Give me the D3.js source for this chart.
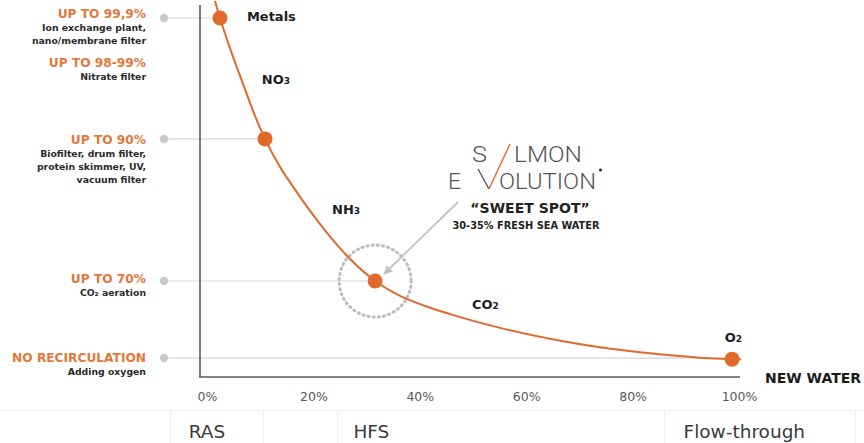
<!DOCTYPE html>
<html>
<head>
<meta charset="utf-8">
<script src="https://cdn.jsdelivr.net/npm/d3@7"></script>
<style>
  html, body { margin: 0; padding: 0; background: #fff; }
  svg { display: block; font-family: "DejaVu Sans", sans-serif; }
</style>
</head>
<body>
<svg id="chart" width="864" height="443"></svg>
<script>
// ---- data ----
const xTickValues = [0, 20, 40, 60, 80, 100];
const xTickLabels = ["0%", "20%", "40%", "60%", "80%", "100%"];

// curve: share of new water (%) vs. recirculation level (schematic units)
const curveX = [1.5, 2.44, 4.32, 6.77, 9.02, 10.9, 13.7, 16.2, 19.4, 22.6, 26.9, 31.6, 36.3, 41.0, 45.7, 55.1, 67.7, 86.5, 98.7, 100.4];
const curveY = [101.1, 96.5, 88.4, 78.8, 70.2, 64.0, 56.5, 51.1, 44.6, 38.7, 31.7, 25.8, 21.8, 19.1, 16.9, 13.2, 9.4, 5.9, 4.8, 4.8];

// marked points on the curve
const pointX = [2.44, 10.9, 31.6, 98.7];
const pointY = [96.5, 64.0, 25.8, 4.8];

// left-hand categories
const levelHeads = ["UP TO 99,9%", "UP TO 98-99%", "UP TO 90%", "UP TO 70%", "NO RECIRCULATION"];
const levelSubs = [
  ["Ion exchange plant,", "nano/membrane filter"],
  ["Nitrate filter"],
  ["Biofilter, drum filter,", "protein skimmer, UV,", "vacuum filter"],
  ["CO\u2082 aeration"],
  ["Adding oxygen"]
];
const levelHeadY = [96.5, 83.3, 62.6, 25.3, 4.0];
const guideLevels = [96.5, 64.0, 25.8, 5.1];
const guideEndX = [2.44, 10.9, 31.6, 100];

// substance labels on the curve
const substanceNames = ["Metals", "NO", "NH", "CO", "O"];
const substanceSubs = ["", "3", "3", "2", "2"];
const substanceX = [7.5, 10.3, 23.5, 49.8, 97.3];
const substanceY = [95.7, 78.8, 43.7, 18.3, 9.4];

// bottom row
const systemNames = ["RAS", "HFS", "Flow-through"];
const systemX = [0, 30.9, 101];

// ---- layout ----
const svg = d3.select("#chart");
const ORANGE = "#E2692C";
const ORANGE_TXT = "#E5773A";
const BOLD = "'DejaVu Sans', sans-serif";
const x = d3.scaleLinear().domain([0, 100]).range([207, 739]);
const y = d3.scaleLinear().domain([0, 100]).range([377, 5]);

// faint table lines at the bottom
const faint = "#f0f0f0";
svg.append("line").attr("x1", 0).attr("x2", 864).attr("y1", 410.5).attr("y2", 410.5)
  .attr("stroke", faint).attr("stroke-width", 1);
[170, 263, 337, 664, 855].forEach(v => {
  svg.append("line").attr("x1", v + 0.5).attr("x2", v + 0.5).attr("y1", 411).attr("y2", 443)
    .attr("stroke", faint).attr("stroke-width", 1);
});

// guide lines
guideLevels.forEach((lv, i) => {
  svg.append("line")
    .attr("x1", 163).attr("x2", x(guideEndX[i]))
    .attr("y1", y(lv)).attr("y2", y(lv))
    .attr("stroke", "#d6d6d6").attr("stroke-width", 1.2);
  svg.append("circle").attr("cx", 164).attr("cy", y(lv)).attr("r", 4.2).attr("fill", "#c9c9c9");
});

// axes (no ticks)
svg.append("line").attr("x1", 200).attr("x2", 200).attr("y1", 5).attr("y2", 377)
  .attr("stroke", "#5a5a5a").attr("stroke-width", 1.6);
svg.append("line").attr("x1", 199).attr("x2", 740).attr("y1", 377).attr("y2", 377)
  .attr("stroke", "#5a5a5a").attr("stroke-width", 1.6);

// x tick labels through an axis
const xAxis = d3.axisBottom(x).tickValues(xTickValues)
  .tickFormat((d, i) => xTickLabels[i]).tickSize(0).tickPadding(0);
const gx = svg.append("g").attr("transform", "translate(0,392)").call(xAxis);
gx.select(".domain").remove();
gx.selectAll("text").attr("font-family", "'DejaVu Sans', sans-serif").attr("font-size", 12.5)
  .attr("fill", "#5a5a5a").attr("dy", "0.71em");

// sweet spot dotted circle
svg.append("circle").attr("cx", x(pointX[2])).attr("cy", y(pointY[2])).attr("r", 36)
  .attr("fill", "none").attr("stroke", "#bdbdbd").attr("stroke-width", 3)
  .attr("stroke-dasharray", "1.2 4").attr("stroke-linecap", "round");

// curve
const line = d3.line().x(d => x(d[0])).y(d => y(d[1])).curve(d3.curveMonotoneX);
svg.append("path").datum(curveX.map((v, i) => [v, curveY[i]]))
  .attr("d", line).attr("fill", "none").attr("stroke", ORANGE).attr("stroke-width", 2);

// arrow
const defs = svg.append("defs");
defs.append("marker").attr("id", "ah").attr("viewBox", "0 0 10 10").attr("refX", 9).attr("refY", 5)
  .attr("markerWidth", 5).attr("markerHeight", 5).attr("orient", "auto")
  .append("path").attr("d", "M0,0 L10,5 L0,10 z").attr("fill", "#c2c2c2");
svg.append("line").attr("x1", 458).attr("y1", 202).attr("x2", 384).attr("y2", 274)
  .attr("stroke", "#c2c2c2").attr("stroke-width", 1.8).attr("marker-end", "url(#ah)");

// points
svg.selectAll("circle.pt").data(pointX).enter().append("circle").attr("class", "pt")
  .attr("cx", d => x(d)).attr("cy", (d, i) => y(pointY[i])).attr("r", 7.5).attr("fill", ORANGE);

// substance labels
substanceNames.forEach((n, i) => {
  const t = svg.append("text").attr("x", x(substanceX[i])).attr("y", y(substanceY[i]))
    .attr("font-family", BOLD).attr("font-weight", 700).attr("font-size", 13)
    .attr("fill", "#1e1e1e");
  t.append("tspan").text(n);
  if (substanceSubs[i]) t.append("tspan").attr("font-size", 9).text(substanceSubs[i]);
});

// left labels
levelHeads.forEach((h, i) => {
  const by = y(levelHeadY[i]);
  svg.append("text").attr("x", 146).attr("y", by).attr("text-anchor", "end")
    .attr("font-family", BOLD).attr("font-weight", 700).attr("font-size", 12.2)
    .attr("fill", ORANGE_TXT).text(h);
  levelSubs[i].forEach((s, j) => {
    svg.append("text").attr("x", 146).attr("y", by + 13 + j * 13).attr("text-anchor", "end")
      .attr("font-family", BOLD).attr("font-weight", 700).attr("font-size", 9.3)
      .attr("fill", "#2a2a2a").text(s);
  });
});

// NEW WATER
svg.append("text").attr("x", 765).attr("y", 383).attr("font-family", BOLD)
  .attr("font-weight", 700).attr("font-size", 14).attr("fill", "#1a1a1a").text("NEW WATER");

// logo
const logoParts = [["S", 472, 162, 15], ["LMON", 514, 162, 68], ["E", 448, 189, 13], ["OLUTION", 499, 189, 97]];
logoParts.forEach(p => {
  svg.append("text").attr("x", p[1]).attr("y", p[2])
    .attr("font-family", "Roboto, sans-serif").attr("font-weight", 300)
    .attr("font-size", 22.5).attr("fill", "#555")
    .attr("textLength", p[3]).attr("lengthAdjust", "spacingAndGlyphs").text(p[0]);
});
svg.append("line").attr("x1", 478).attr("y1", 169).attr("x2", 489).attr("y2", 189)
  .attr("stroke", "#555").attr("stroke-width", 1.4);
svg.append("line").attr("x1", 489).attr("y1", 189).attr("x2", 510).attr("y2", 144)
  .attr("stroke", ORANGE).attr("stroke-width", 1.4);
svg.append("circle").attr("cx", 600.5).attr("cy", 170).attr("r", 1.6).attr("fill", "#333");

// sweet spot text
svg.append("text").attr("x", 530).attr("y", 213).attr("text-anchor", "middle")
  .attr("font-family", BOLD).attr("font-weight", 700).attr("font-size", 14)
  .attr("fill", "#222").text("\u201CSWEET SPOT\u201D");
svg.append("text").attr("x", 526).attr("y", 229).attr("text-anchor", "middle")
  .attr("font-family", BOLD).attr("font-weight", 700).attr("font-size", 9.8)
  .attr("fill", "#222").text("30-35% FRESH SEA WATER");

// bottom system labels
systemNames.forEach((n, i) => {
  svg.append("text").attr("x", x(systemX[i])).attr("y", 438).attr("text-anchor", "middle")
    .attr("font-family", "'DejaVu Sans', sans-serif").attr("font-size", 18.5).attr("fill", "#3a3a3a").text(n);
});
</script>
</body>
</html>
